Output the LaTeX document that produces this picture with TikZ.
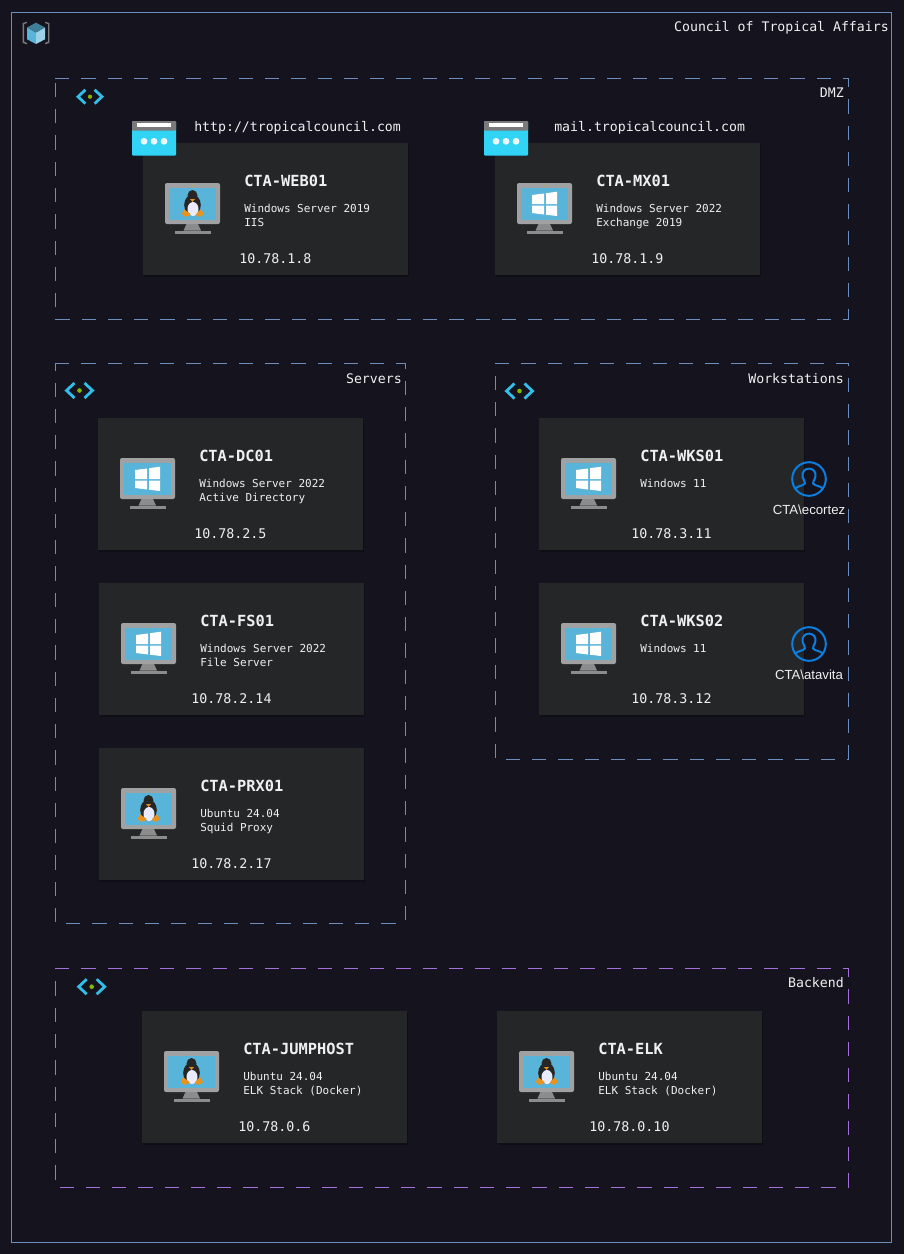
\documentclass[tikz,border=0pt]{standalone}
\usepackage{fontspec}
\setmainfont{Liberation Sans}
\setmonofont{DejaVu Sans Mono}
\usetikzlibrary{shadows,positioning,calc}

\definecolor{bgdark}{HTML}{15141E}
\definecolor{boxdark}{HTML}{242628}
\definecolor{frameblue}{HTML}{6C8EBF}
\definecolor{zonepurple}{HTML}{A56FDC}
\definecolor{labelwhite}{HTML}{F0F0F0}
\definecolor{screenblue}{HTML}{59B4D9}
\definecolor{monitorgray}{HTML}{A0A1A2}
\definecolor{standgray}{HTML}{8C8C8C}
\definecolor{browsercyan}{HTML}{32D4F5}
\definecolor{browsergray}{HTML}{7A7A7A}
\definecolor{tuxorange}{HTML}{E8931E}
\definecolor{chevronblue}{HTML}{32BEE6}
\definecolor{dotgreen}{HTML}{7FBA00}
\definecolor{userblue}{HTML}{0B7FE0}

\tikzset{
  pics/monitorbase/.style={code={
    \fill [standgray] (21.5,41) -- (33,41) -- (36,47.5) -- (18.5,47.5) -- cycle;
    \fill [standgray] (10,47.5) rectangle (46,51);
    \fill [monitorgray, rounded corners=1.5] (0,0) rectangle (55,41);
    \fill [screenblue] (4,4.5) rectangle (50.5,37);
    \fill [yellow!70!black] (27.3,2.5) circle (0.5);
  }},
  pics/linuxhost/.style={code={
    \pic {monitorbase};
    \fill [black!85] (27.5,12.5) ellipse (5 and 5.5);
    \fill [black!85] (27.5,22) ellipse (8.3 and 10.5);
    \fill [white!92!blue] (28,26) ellipse (5.5 and 7);
    \fill [tuxorange] (25,16) -- (30,16) -- (27.5,18.8) -- cycle;
    \fill [tuxorange] (19,26.3) -- (25.7,31) -- (24,33) -- (20,33.7) -- (16.7,31) -- cycle;
    \fill [tuxorange] (36,26.3) -- (31,31) -- (32,33) -- (35.5,33.7) -- (39,31) -- cycle;
  }},
  pics/winhost/.style={code={
    \pic {monitorbase};
    \fill [white] (15,12) -- (27,10.5) -- (27,21) -- (15,21) -- cycle;
    \fill [white] (29,10.2) -- (40,8.7) -- (40,21) -- (29,21) -- cycle;
    \fill [white] (15,22.7) -- (27,22.7) -- (27,31.5) -- (15,30) -- cycle;
    \fill [white] (29,22.7) -- (40,22.7) -- (40,33) -- (29,31.7) -- cycle;
  }},
  pics/browsericon/.style={code={
    \fill [browsercyan, rounded corners=0.8] (0,0) rectangle (44,34.7);
    \fill [browsergray, rounded corners=0.8] (0,0) rectangle (44,9.7);
    \fill [white] (5.3,2.3) rectangle (38.7,6.3);
    \fill [white!90!browsercyan] (12,20.3) circle (3.4);
    \fill [white!90!browsercyan] (22,20.3) circle (3.4);
    \fill [white!90!browsercyan] (32,20.3) circle (3.4);
  }},
  pics/subneticon/.style={code={
    \draw [chevronblue, line width=2.1pt, line join=miter] (-5,-7.5) -- (-13,0) -- (-5,7.5);
    \draw [chevronblue, line width=2.1pt, line join=miter] (5,-7.5) -- (13,0) -- (5,7.5);
    \fill [dotgreen] (0,0) circle (2.3);
  }},
  pics/usericon/.style={code={
    \draw [userblue, line width=1.5pt] (0,0) circle (16.8);
    \draw [userblue, line width=1.5pt, line join=round] (-13.6,9.5) .. controls (-11,6.5) and (-7,7.5) .. (-4,4.5)
      .. controls (-3.6,2.8) and (-5.5,1) .. (-6.4,-2.5) .. controls (-8,-13) and (8,-13) .. (6.4,-2.5)
      .. controls (5.5,1) and (3.6,2.8) .. (4,4.5) .. controls (7,7.5) and (11,6.5) .. (13.6,9.5);
  }}
}

\begin{document}
\begin{tikzpicture}[x=0.75pt,y=-0.75pt,
    zoneline/.style={line width=0.65pt, dash pattern=on 10.7pt off 9pt},
    hostbox/.style={fill=boxdark, anchor=north west, inner sep=0pt, minimum width=198.75pt, minimum height=99pt,
      drop shadow={shadow xshift=0.6pt, shadow yshift=-1.2pt, opacity=0.25, fill=black}},
    hosttitle/.style={anchor=base west, inner sep=0pt, text=labelwhite, font=\ttfamily\bfseries\fontsize{11.5}{12}\selectfont},
    hostdesc/.style={anchor=base west, inner sep=0pt, text=labelwhite, font=\ttfamily\fontsize{8.25}{10}\selectfont},
    hostip/.style={anchor=base west, inner sep=0pt, text=labelwhite, font=\ttfamily\fontsize{10}{12}\selectfont},
    zonelabel/.style={anchor=base east, inner sep=0pt, text=labelwhite, font=\ttfamily\fontsize{9.9}{12}\selectfont},
    urllabel/.style={anchor=base west, inner sep=0pt, text=labelwhite, font=\ttfamily\fontsize{9.9}{12}\selectfont},
    userlabel/.style={inner sep=0pt, text=labelwhite, font=\fontsize{9.9}{12}\selectfont}]
  \path [use as bounding box, fill=bgdark] (0,0) rectangle (904,1254);

  % outer frame
  \draw [frameblue, line width=0.65pt] (11,12) rectangle (891,1242);
  \fill [browsergray] (22.7,23) -- (27,21.7) -- (27,23) -- (24,24) -- (24,41.5) -- (27,43) -- (27,44.3) -- (22.7,43) -- cycle;
  \fill [browsergray] (49.3,23) -- (45,21.7) -- (45,23) -- (48,24) -- (48,41.5) -- (45,43) -- (45,44.3) -- (49.3,43) -- cycle;
  \fill [screenblue] (27,27.5) -- (36,32.5) -- (36,44) -- (27,39.3) -- cycle;
  \fill [screenblue!60!white] (45,27.5) -- (36,32.5) -- (36,44) -- (45,39.3) -- cycle;
  \fill [screenblue!70!black] (36,22.7) -- (45,27.5) -- (36,32.5) -- (27,27.5) -- cycle;
  \node [zonelabel] (council) at (889,31.3) {Council of Tropical Affairs};

  % zones
  \draw [zoneline, frameblue] (55,78) -- (848,78) -- (848,319) -- (55,319) -- cycle;
  \draw [zoneline, frameblue] (55,363) -- (405,363) -- (405,923) -- (55,923) -- cycle;
  \draw [zoneline, frameblue] (495,363) -- (848,363) -- (848,759) -- (495,759) -- cycle;
  \draw [zoneline, zonepurple] (55,968) -- (848,968) -- (848,1187) -- (55,1187) -- cycle;
  \pic [scale=0.92] at (90,96.7) {subneticon};
  \pic at (79.5,390.5) {subneticon};
  \pic at (519.5,391) {subneticon};
  \pic at (91.7,986.7) {subneticon};
  \node [zonelabel] (dmz) at (844,97) {DMZ};
  \node [zonelabel] (servers) at (402,383.3) {Servers};
  \node [zonelabel] (workstations) at (844,383.3) {Workstations};
  \node [zonelabel] (backend) at (844,987.5) {Backend};

  % dmz hosts
  \node [hostbox] (web) at (143,143) {};
  \pic at ([shift={(22,40)}]web.north west) {linuxhost};
  \node [hosttitle] (webname) at ([shift={(101,43)}]web.north west) {CTA-WEB01};
  \node [hostdesc] (webos) at ([shift={(101,69.7)}]web.north west) {Windows Server 2019};
  \node [hostdesc] (webrole) at ([shift={(101,83)}]web.north west) {IIS};
  \node [hostip] (webip) at ([shift={(96,120.3)}]web.north west) {10.78.1.8};
  \pic at (132,121) {browsericon};
  \node [urllabel] (weburl) at (194,131) {http://tropicalcouncil.com};

  \node [hostbox] (mx) at (495,143) {};
  \pic at ([shift={(22,40)}]mx.north west) {winhost};
  \node [hosttitle] (mxname) at ([shift={(101,43)}]mx.north west) {CTA-MX01};
  \node [hostdesc] (mxos) at ([shift={(101,69.7)}]mx.north west) {Windows Server 2022};
  \node [hostdesc] (mxrole) at ([shift={(101,83)}]mx.north west) {Exchange 2019};
  \node [hostip] (mxip) at ([shift={(96,120.3)}]mx.north west) {10.78.1.9};
  \pic at (484,121) {browsericon};
  \node [urllabel] (mxurl) at (554,131) {mail.tropicalcouncil.com};

  % servers
  \node [hostbox] (dc) at (98,418) {};
  \pic at ([shift={(22,40)}]dc.north west) {winhost};
  \node [hosttitle] (dcname) at ([shift={(101,43)}]dc.north west) {CTA-DC01};
  \node [hostdesc] (dcos) at ([shift={(101,69.7)}]dc.north west) {Windows Server 2022};
  \node [hostdesc] (dcrole) at ([shift={(101,83)}]dc.north west) {Active Directory};
  \node [hostip] (dcip) at ([shift={(96,120.3)}]dc.north west) {10.78.2.5};

  \node [hostbox] (fs) at (99,583) {};
  \pic at ([shift={(22,40)}]fs.north west) {winhost};
  \node [hosttitle] (fsname) at ([shift={(101,43)}]fs.north west) {CTA-FS01};
  \node [hostdesc] (fsos) at ([shift={(101,69.7)}]fs.north west) {Windows Server 2022};
  \node [hostdesc] (fsrole) at ([shift={(101,83)}]fs.north west) {File Server};
  \node [hostip] (fsip) at ([shift={(92,120.3)}]fs.north west) {10.78.2.14};

  \node [hostbox] (prx) at (99,748) {};
  \pic at ([shift={(22,40)}]prx.north west) {linuxhost};
  \node [hosttitle] (prxname) at ([shift={(101,43)}]prx.north west) {CTA-PRX01};
  \node [hostdesc] (prxos) at ([shift={(101,69.7)}]prx.north west) {Ubuntu 24.04};
  \node [hostdesc] (prxrole) at ([shift={(101,83)}]prx.north west) {Squid Proxy};
  \node [hostip] (prxip) at ([shift={(92,120.3)}]prx.north west) {10.78.2.17};

  % workstations
  \node [hostbox] (wksa) at (539,418) {};
  \pic at ([shift={(22,40)}]wksa.north west) {winhost};
  \node [hosttitle] (wksaname) at ([shift={(101,43)}]wksa.north west) {CTA-WKS01};
  \node [hostdesc] (wksaos) at ([shift={(101,69.7)}]wksa.north west) {Windows 11};
  \node [hostip] (wksaip) at ([shift={(92,120.3)}]wksa.north west) {10.78.3.11};
  \pic at (809,479) {usericon};
  \node [userlabel] (ecortez) at (809,510) {CTA\textbackslash ecortez};

  \node [hostbox] (wksb) at (539,583) {};
  \pic at ([shift={(22,40)}]wksb.north west) {winhost};
  \node [hosttitle] (wksbname) at ([shift={(101,43)}]wksb.north west) {CTA-WKS02};
  \node [hostdesc] (wksbos) at ([shift={(101,69.7)}]wksb.north west) {Windows 11};
  \node [hostip] (wksbip) at ([shift={(92,120.3)}]wksb.north west) {10.78.3.12};
  \pic at (809,644) {usericon};
  \node [userlabel] (atavita) at (809,675) {CTA\textbackslash atavita};

  % backend
  \node [hostbox] (jump) at (142,1011) {};
  \pic at ([shift={(22,40)}]jump.north west) {linuxhost};
  \node [hosttitle] (jumpname) at ([shift={(101,43)}]jump.north west) {CTA-JUMPHOST};
  \node [hostdesc] (jumpos) at ([shift={(101,69.7)}]jump.north west) {Ubuntu 24.04};
  \node [hostdesc] (jumprole) at ([shift={(101,83)}]jump.north west) {ELK Stack (Docker)};
  \node [hostip] (jumpip) at ([shift={(96,120.3)}]jump.north west) {10.78.0.6};

  \node [hostbox] (elk) at (497,1011) {};
  \pic at ([shift={(22,40)}]elk.north west) {linuxhost};
  \node [hosttitle] (elkname) at ([shift={(101,43)}]elk.north west) {CTA-ELK};
  \node [hostdesc] (elkos) at ([shift={(101,69.7)}]elk.north west) {Ubuntu 24.04};
  \node [hostdesc] (elkrole) at ([shift={(101,83)}]elk.north west) {ELK Stack (Docker)};
  \node [hostip] (elkip) at ([shift={(92,120.3)}]elk.north west) {10.78.0.10};
\end{tikzpicture}
\end{document}
